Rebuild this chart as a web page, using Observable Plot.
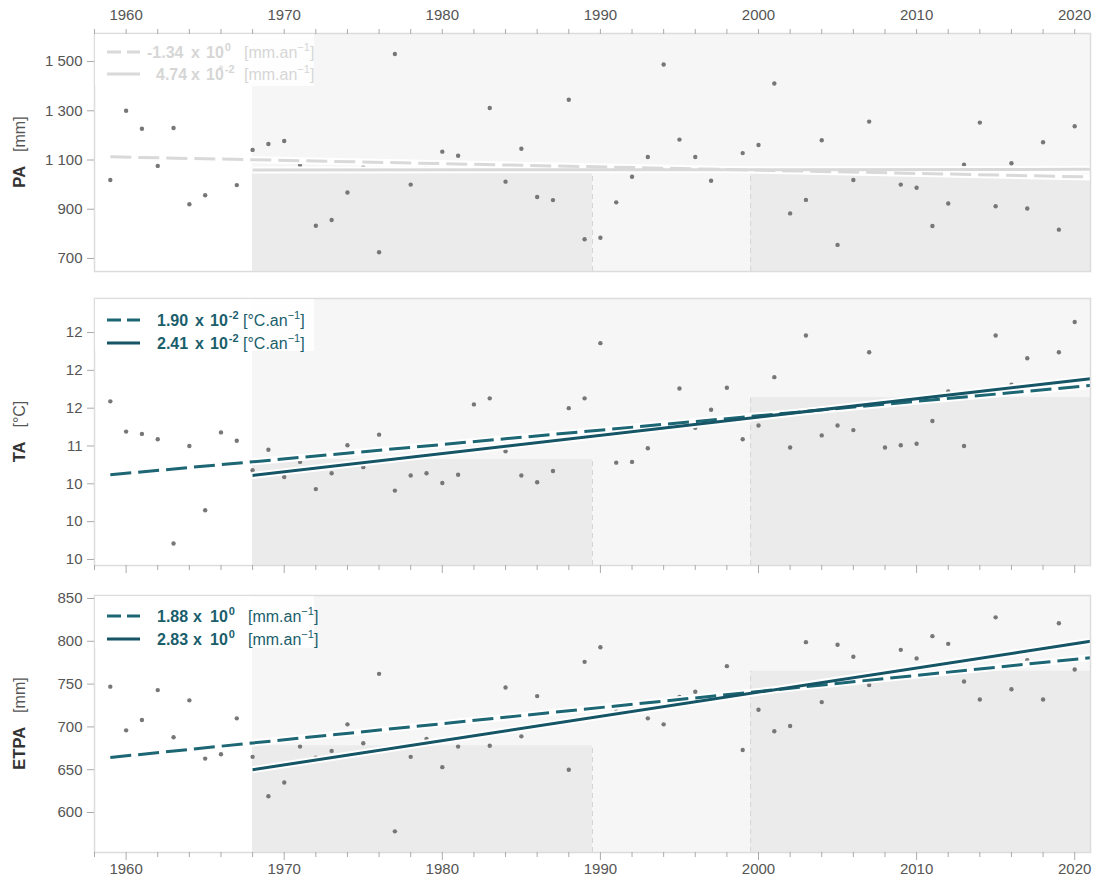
<!DOCTYPE html>
<html>
<head>
<meta charset="utf-8">
<script src="https://cdn.jsdelivr.net/npm/d3@7"></script>
<script src="https://cdn.jsdelivr.net/npm/@observablehq/plot@0.6"></script>
<style>
  body { margin: 0; background: #fff; font-family: "Liberation Sans", Arial, sans-serif; }
  #chart { width: 1100px; }
  #chart svg { display: block; }
</style>
</head>
<body>
<div id="chart"></div>
<script>
// ---------------- data ----------------
const years = [1959,1960,1961,1962,1963,1964,1965,1966,1967,1968,1969,1970,1971,1972,1973,1974,1975,1976,1977,1978,1979,
  1980,1981,1982,1983,1984,1985,1986,1987,1988,1989,1990,1991,1992,1993,1994,1995,1996,1997,1998,1999,
  2000,2001,2002,2003,2004,2005,2006,2007,2008,2009,2010,2011,2012,2013,2014,2015,2016,2017,2018,2019,2020];

const paValues = [1019,1300,1227,1076,1230,920,957,1476,998,1141,1165,1177,1080,833,856,968,1070,725,1531,1000,1073,
  1134,1117,1065,1311,1012,1146,950,937,1345,778,784,928,1032,1112,1488,1183,1112,1016,1060,1128,
  1161,1411,883,938,1180,755,1019,1256,1058,1000,987,832,923,1081,1252,912,1087,903,1172,817,1237];

const taValues = [11.59,11.19,11.16,11.09,9.71,11.00,10.15,11.18,11.07,10.68,10.95,10.59,10.79,10.43,10.64,11.01,10.72,11.15,10.41,10.61,10.64,
  10.51,10.62,11.55,11.63,10.93,10.61,10.52,10.67,11.50,11.63,12.36,10.78,10.79,10.97,11.26,11.76,11.24,11.48,11.77,11.09,
  11.27,11.91,10.98,12.46,11.14,11.27,11.21,12.24,10.98,11.01,11.03,11.33,11.72,11.00,11.70,12.46,11.81,12.16,11.78,12.24,12.64];

const etpaValues = [747,696,708,743,688,731,663,668,710,665,619,635,677,664,672,703,681,762,578,665,686,
  653,677,690,678,746,689,736,705,650,776,793,718,722,710,703,735,741,733,771,673,
  720,695,701,799,729,796,782,749,760,790,780,806,797,753,732,828,744,778,732,821,767];

const xTickMajor = [1960,1970,1980,1990,2000,2010,2020];
const xTickMinor = [1958,1962,1964,1966,1968,1972,1974,1976,1978,1982,1984,1986,1988,1992,1994,1996,1998,2002,2004,2006,2008,2012,2014,2016,2018];

const paTicks = [700,900,1100,1300,1500];
const paTickLabels = ["700","900","1 100","1 300","1 500"];
const taTicks = [9.5,10,10.5,11,11.5,12,12.5];
const taTickLabels = ["10","10","10","11","12","12","12"];
const etpaTicks = [600,650,700,750,800,850];
const etpaTickLabels = ["600","650","700","750","800","850"];

// reference periods (shaded) and their means
const periodStart = [1968, 1999.5];
const periodEnd = [1989.5, 2021];
const paPeriodMeans = [1046, 1043];
const taPeriodMeans = [10.82, 11.64];
const etpaPeriodMeans = [678, 765];
const recentStart = 1968, recentEnd = 2021;

// trend lines: [whole series (dashed), since 1968 (solid)]
const trendKinds = ["dashed", "solid"];
const trendStartYear = [1959, 1968];
const trendEndYear = [2021, 2021];
const paTrendStart = [1113, 1059], paTrendEnd = [1031, 1062];
const taTrendStart = [10.62, 10.61], taTrendEnd = [11.80, 11.89];
const etpaTrendStart = [664.3, 650], etpaTrendEnd = [780.9, 800];

const paSlopes = ["-1.34", "4.74"], paExponents = ["0", "-2"];
const taSlopes = ["1.90", "2.41"], taExponents = ["-2", "-2"];
const etpaSlopes = ["1.88", "2.83"], etpaExponents = ["0", "0"];

// ---------------- drawing ----------------
const FONT = '"Liberation Sans", Arial, sans-serif';
const X0 = 94, X1 = 1090;

function panel(o) {
  const rows = years.map((y, i) => ({year: y, v: o.values[i]}));
  const periods = periodStart.map((s, i) => ({x1: s, x2: periodEnd[i], m: o.means[i]}));
  const bounds = [{x: periodEnd[0], m: o.means[0]}, {x: periodStart[1], m: o.means[1]}];
  const trends = [];
  trendKinds.forEach((k, i) => {
    trends.push({kind: k, year: trendStartYear[i], v: o.trendStart[i]});
    trends.push({kind: k, year: trendEndYear[i], v: o.trendEnd[i]});
  });
  const tickMap = new Map(o.ticks.map((t, i) => [t, o.tickLabels[i]]));
  const [d0, d1] = o.domain;

  const marks = [
    Plot.rect([{x1: recentStart, x2: recentEnd}], {x1: "x1", x2: "x2", y1: d0, y2: d1, fill: "#f6f6f6"}),
    Plot.rect(periods, {x1: "x1", x2: "x2", y1: d0, y2: "m", fill: "#ebebeb"}),
    Plot.ruleX(bounds, {x: "x", y1: d0, y2: "m", stroke: "#d6d6d6", strokeDasharray: "5,4", strokeWidth: 1}),
    Plot.dot(rows, {x: "year", y: "v", r: 2.2, fill: "#777", stroke: null}),
    Plot.line(trends, {x: "year", y: "v", z: "kind", stroke: "white", strokeWidth: 7, strokeLinecap: "butt"}),
    Plot.line(trends.filter(d => d.kind === "dashed"), {x: "year", y: "v", stroke: o.dashColor, strokeWidth: 3, strokeDasharray: "21,7", strokeLinecap: "butt"}),
    Plot.line(trends.filter(d => d.kind === "solid"), {x: "year", y: "v", stroke: o.solidColor, strokeWidth: 3, strokeLinecap: "butt"}),
    Plot.frame({stroke: "#dcdcdc", strokeWidth: 1.5}),
    Plot.axisY(o.ticks, {tickSize: 7, tickPadding: 5, tickFormat: d => tickMap.get(d), fontSize: 15, fill: "#555", stroke: "#aaa", label: null})
  ];
  if (o.xAxis === "top") {
    marks.push(Plot.axisX(xTickMinor, {anchor: "top", tickSize: 5, tickFormat: () => "", stroke: "#aaa", label: null}));
    marks.push(Plot.axisX(xTickMajor, {anchor: "top", tickSize: 5, tickPadding: 9, tickFormat: d => String(d), fontSize: 15, fill: "#555", stroke: "#aaa", label: null}));
  } else if (o.xAxis === "bottom-plain") {
    marks.push(Plot.axisX(xTickMinor, {anchor: "bottom", tickSize: 5, tickFormat: () => "", stroke: "#aaa", label: null}));
    marks.push(Plot.axisX(xTickMajor, {anchor: "bottom", tickSize: 8, tickFormat: () => "", stroke: "#aaa", label: null}));
  } else {
    marks.push(Plot.axisX(xTickMinor, {anchor: "bottom", tickSize: 5, tickFormat: () => "", stroke: "#aaa", label: null}));
    marks.push(Plot.axisX(xTickMajor, {anchor: "bottom", tickSize: 8, tickPadding: 3, tickFormat: d => String(d), fontSize: 15, fill: "#555", stroke: "#aaa", label: null}));
  }

  const svgEl = Plot.plot({
    width: 1100,
    height: o.height,
    marginLeft: X0,
    marginRight: 1100 - X1,
    marginTop: o.mt,
    marginBottom: o.mb,
    x: {domain: [1958, 2021], label: null},
    y: {domain: o.domain, label: null},
    style: {fontFamily: FONT, fontSize: "15px", color: "#555", background: "white", overflow: "visible"},
    marks
  });

  const svg = d3.select(svgEl);
  const top = o.mt, bottom = o.height - o.mb;

  // y-axis title
  const yt = svg.append("text")
    .attr("transform", `translate(25,${(top + bottom) / 2}) rotate(-90)`)
    .attr("text-anchor", "middle")
    .attr("font-family", FONT)
    .attr("fill", "#333");
  yt.append("tspan").attr("font-weight", "bold").attr("font-size", 16.5).text(o.name);
  yt.append("tspan").attr("dx", 14).attr("font-size", 16).attr("fill", "#555").text(o.unit);

  // legend
  const FS = 16, SUP = 11;
  const g = svg.append("g").attr("font-family", FONT).attr("text-anchor", "start");
  g.append("rect").attr("x", X0 + 1).attr("y", top + 1).attr("width", 219).attr("height", 52)
    .attr("fill", "white").attr("fill-opacity", 0.82);
  o.slopes.forEach((s, i) => {
    const cy = top + o.rowY[i];
    g.append("line").attr("x1", 107).attr("x2", 140).attr("y1", cy).attr("y2", cy)
      .attr("stroke", i === 0 ? o.dashColor : o.solidColor).attr("stroke-width", 3.2)
      .attr("stroke-dasharray", i === 0 ? "14,6" : null);
    const neg = s.startsWith("-");
    const base = cy + 5.5;
    g.append("text").attr("text-anchor", "start").attr("x", neg ? o.lx.num - 9 : o.lx.num).attr("y", base)
      .attr("font-weight", "bold").attr("font-size", FS).attr("fill", o.textColor).text(s);
    g.append("text").attr("text-anchor", "start").attr("x", o.lx.x).attr("y", base)
      .attr("font-weight", "bold").attr("font-size", FS).attr("fill", o.textColor).text("x");
    const tt = g.append("text").attr("text-anchor", "start").attr("x", o.lx.ten).attr("y", base)
      .attr("font-weight", "bold").attr("font-size", FS).attr("fill", o.textColor);
    tt.append("tspan").text("10");
    tt.append("tspan").attr("dx", 1).attr("dy", -7).attr("font-size", SUP).text(o.exps[i]);
    const ut = g.append("text").attr("text-anchor", "start").attr("x", o.lx.unit).attr("y", base)
      .attr("font-size", FS).attr("fill", o.textColor);
    ut.append("tspan").text(o.legendUnit);
    ut.append("tspan").attr("dy", -7).attr("font-size", SUP).text("\u22121");
    ut.append("tspan").attr("dy", 7).text("]");
  });

  document.getElementById("chart").appendChild(svgEl);
}

panel({
  name: "PA", unit: "[mm]", values: paValues, means: paPeriodMeans,
  trendStart: paTrendStart, trendEnd: paTrendEnd,
  ticks: paTicks, tickLabels: paTickLabels, domain: [647, 1614],
  height: 285, mt: 33, mb: 14, xAxis: "top",
  dashColor: "#d9d9d9", solidColor: "#d9d9d9", textColor: "#d6d6d6",
  slopes: paSlopes, exps: paExponents, legendUnit: "[mm.an",
  rowY: [19, 41], lx: {num: 156, x: 191, ten: 206, unit: 244}
});
panel({
  name: "TA", unit: "[°C]", values: taValues, means: taPeriodMeans,
  trendStart: taTrendStart, trendEnd: taTrendEnd,
  ticks: taTicks, tickLabels: taTickLabels, domain: [9.42, 12.95],
  height: 295, mt: 13, mb: 15, xAxis: "bottom-plain",
  dashColor: "#1d6674", solidColor: "#155566", textColor: "#1a5e6c",
  slopes: taSlopes, exps: taExponents, legendUnit: "[°C.an",
  rowY: [22, 45], lx: {num: 157, x: 195, ten: 210, unit: 243}
});
panel({
  name: "ETPA", unit: "[mm]", values: etpaValues, means: etpaPeriodMeans,
  trendStart: etpaTrendStart, trendEnd: etpaTrendEnd,
  ticks: etpaTicks, tickLabels: etpaTickLabels, domain: [553.3, 853.5],
  height: 301, mt: 15, mb: 29, xAxis: "bottom",
  dashColor: "#1d6674", solidColor: "#155566", textColor: "#1a5e6c",
  slopes: etpaSlopes, exps: etpaExponents, legendUnit: "[mm.an",
  rowY: [21, 44], lx: {num: 157, x: 193, ten: 210, unit: 248}
});
</script>
</body>
</html>
